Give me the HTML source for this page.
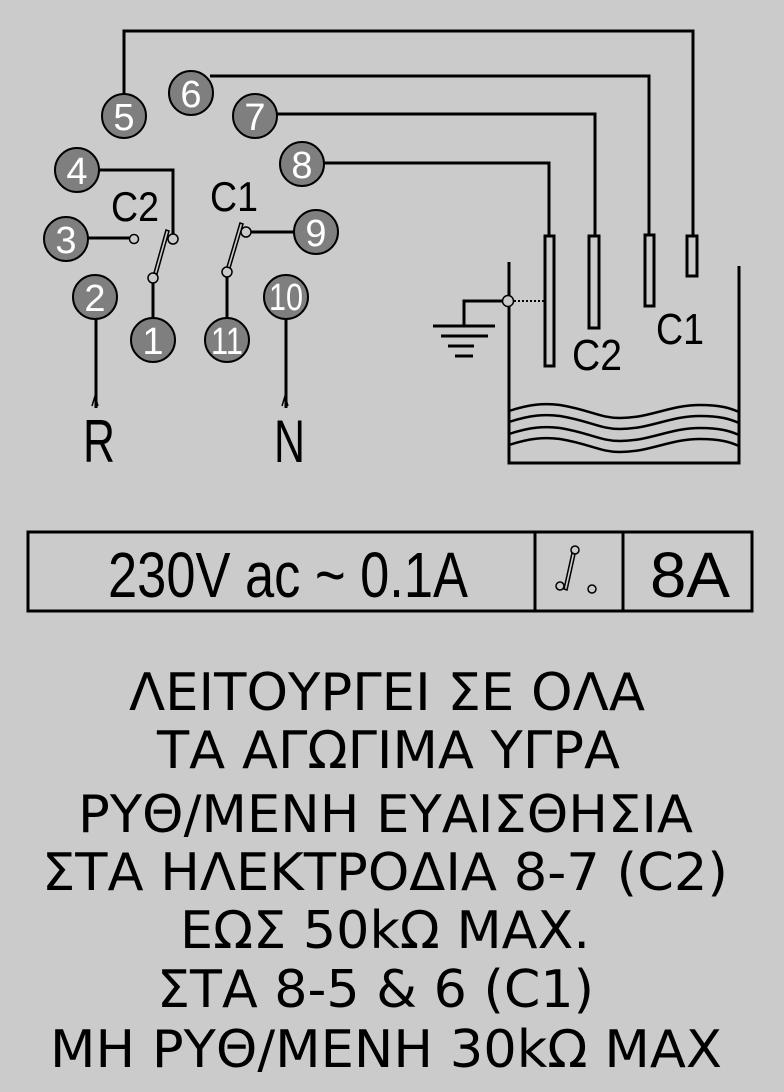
<!DOCTYPE html>
<html><head><meta charset="utf-8"><style>
html,body{margin:0;padding:0;background:#cbcbcb;}
svg{display:block}
.n{fill:#7f7f7f;stroke:#000;stroke-width:2}
.nt{fill:#fff;font-family:"Liberation Sans","DejaVu Sans",sans-serif;font-size:38px;text-anchor:middle}
.w{stroke:#000;stroke-width:3;fill:none}
.t{fill:#000;font-family:"DejaVu Sans","Liberation Sans",sans-serif;font-weight:normal}
</style></head><body>
<svg width="784" height="1092" viewBox="0 0 784 1092" xmlns="http://www.w3.org/2000/svg">
<rect width="784" height="1092" fill="#cbcbcb"/>
<polyline class="w" points="124,95 124,31 693,31 693,236"/>
<polyline class="w" points="210,76 649,76 649,235"/>
<polyline class="w" points="276,114 595,114 595,236"/>
<polyline class="w" points="324,163 549,163 549,236"/>
<polyline class="w" points="99,170 173,170 173,234"/>
<line class="w" x1="88" y1="238" x2="129" y2="238"/>
<line class="w" x1="250" y1="232" x2="294" y2="232"/>
<line class="w" x1="153" y1="283" x2="153" y2="318"/>
<line class="w" x1="227" y1="277" x2="227" y2="318"/>
<line class="w" x1="96" y1="319" x2="96" y2="408"/>
<line class="w" x1="286" y1="319" x2="286" y2="408"/>
<path d="M92,406 L95,396 L98,406" fill="none" stroke="#000" stroke-width="1.5"/>
<path d="M282,406 L285,396 L288,406" fill="none" stroke="#000" stroke-width="1.5"/>
<g fill="#cbcbcb" stroke="#000" stroke-width="1.5">
<circle cx="134" cy="239" r="4.5"/>
<circle cx="173" cy="239" r="5"/>
<circle cx="153" cy="278" r="5"/>
<circle cx="246" cy="232" r="5"/>
<circle cx="227" cy="272" r="5"/>
<polygon points="166,230 169,231 157,274 154,273"/>
<polygon points="240,223 243,224 230,268 227,267"/>
</g>
<g>
<circle class="n" cx="124" cy="116" r="22"/><text class="nt" x="124" y="130">5</text>
<circle class="n" cx="191" cy="93" r="22"/><text class="nt" x="191" y="107">6</text>
<circle class="n" cx="255" cy="116" r="22"/><text class="nt" x="255" y="130">7</text>
<circle class="n" cx="302" cy="164" r="22"/><text class="nt" x="302" y="178">8</text>
<circle class="n" cx="77" cy="170" r="22"/><text class="nt" x="77" y="184">4</text>
<circle class="n" cx="66" cy="239" r="22"/><text class="nt" x="66" y="253">3</text>
<circle class="n" cx="316" cy="232" r="22"/><text class="nt" x="316" y="246">9</text>
<circle class="n" cx="95" cy="297" r="22"/><text class="nt" x="95" y="311">2</text>
<circle class="n" cx="286" cy="297" r="22"/><text class="nt" x="286" y="310" textLength="34" lengthAdjust="spacingAndGlyphs">10</text>
<circle class="n" cx="153" cy="340" r="22"/><text class="nt" x="153" y="354">1</text>
<circle class="n" cx="227" cy="340" r="22"/><text class="nt" x="227" y="354" textLength="32" lengthAdjust="spacingAndGlyphs">11</text>
</g>
<g font-family="Liberation Sans, sans-serif" fill="#000">
<text x="111" y="221" font-size="42" textLength="48" lengthAdjust="spacingAndGlyphs">C2</text>
<text x="210" y="211" font-size="42" textLength="48" lengthAdjust="spacingAndGlyphs">C1</text>
<text x="572" y="370" font-size="44" textLength="50" lengthAdjust="spacingAndGlyphs">C2</text>
<text x="656" y="344" font-size="44" textLength="48" lengthAdjust="spacingAndGlyphs">C1</text>
<text x="83" y="462" font-size="60" textLength="32" lengthAdjust="spacingAndGlyphs">R</text>
<text x="274" y="462" font-size="60" textLength="31" lengthAdjust="spacingAndGlyphs">N</text>
</g>
<g fill="none" stroke="#000" stroke-width="3">
<rect x="545" y="236" width="9" height="130"/>
<rect x="589" y="236" width="10" height="92"/>
<rect x="645" y="235" width="9" height="71"/>
<rect x="687" y="236" width="10" height="40"/>
<polyline points="509,262 509,463 739,463 739,266"/>
<polyline points="508,301 464,301 464,326"/>
<line x1="433" y1="326" x2="495" y2="326"/>
<line x1="441" y1="336" x2="488" y2="336"/>
<line x1="448" y1="346" x2="474" y2="346"/>
<line x1="455" y1="356" x2="473" y2="356"/>
</g>
<circle cx="508" cy="301" r="5.5" fill="#cbcbcb" stroke="#000" stroke-width="1.5"/>
<line x1="514" y1="301" x2="544" y2="301" stroke="#000" stroke-width="2" stroke-dasharray="2,2"/>
<g fill="none" stroke="#000" stroke-width="2.5">
<path d="M509,411 C530,404 545,403 560,405 C590,410 600,418 620,418 C650,418 670,405 700,405 C720,405 730,408 739,412"/>
<path d="M509,422 C530,415 545,414 560,416 C590,421 600,429 620,429 C650,429 670,416 700,416 C720,416 730,419 739,423"/>
<path d="M509,434 C530,427 545,426 560,428 C590,433 600,441 620,441 C650,441 670,428 700,428 C720,428 730,431 739,435"/>
<path d="M509,445 C530,438 545,437 560,439 C590,444 600,452 620,452 C650,452 670,439 700,439 C720,439 730,442 739,446"/>
</g>
<g fill="none" stroke="#000" stroke-width="3">
<rect x="28" y="532" width="724" height="79"/>
<line x1="535" y1="532" x2="535" y2="611"/>
<line x1="623" y1="532" x2="623" y2="611"/>
</g>
<g fill="none" stroke="#000" stroke-width="1.5">
<circle cx="575" cy="550" r="4"/>
<polygon points="572,553 575,554 567,590 564,589"/>
<circle cx="560" cy="586" r="4"/>
<circle cx="592" cy="589" r="4"/>
</g>
<g font-family="Liberation Sans, sans-serif" fill="#000">
<text x="108" y="597" font-size="64" textLength="360" lengthAdjust="spacingAndGlyphs">230V ac ~ 0.1A</text>
<text x="650" y="597" font-size="64" textLength="80" lengthAdjust="spacingAndGlyphs">8A</text>
</g>
<g class="t" font-size="52">
<text x="129" y="710" textLength="516" lengthAdjust="spacingAndGlyphs">ΛΕΙΤΟΥΡΓΕΙ ΣΕ ΟΛΑ</text>
<text x="157" y="768" textLength="463" lengthAdjust="spacingAndGlyphs">ΤΑ ΑΓΩΓΙΜΑ ΥΓΡΑ</text>
<text x="78" y="832" textLength="615" lengthAdjust="spacingAndGlyphs">ΡΥΘ/ΜΕΝΗ ΕΥΑΙΣΘΗΣΙΑ</text>
<text x="42" y="890" textLength="686" lengthAdjust="spacingAndGlyphs">ΣΤΑ ΗΛΕΚΤΡΟΔΙΑ 8-7 (C2)</text>
<text x="180" y="948" textLength="410" lengthAdjust="spacingAndGlyphs">ΕΩΣ 50kΩ ΜΑΧ.</text>
<text x="157" y="1007" textLength="437" lengthAdjust="spacingAndGlyphs">ΣΤΑ 8-5 &amp; 6 (C1)</text>
<text x="50" y="1067" textLength="672" lengthAdjust="spacingAndGlyphs">ΜΗ ΡΥΘ/ΜΕΝΗ 30kΩ ΜΑΧ</text>
</g>
</svg>
</body></html>
